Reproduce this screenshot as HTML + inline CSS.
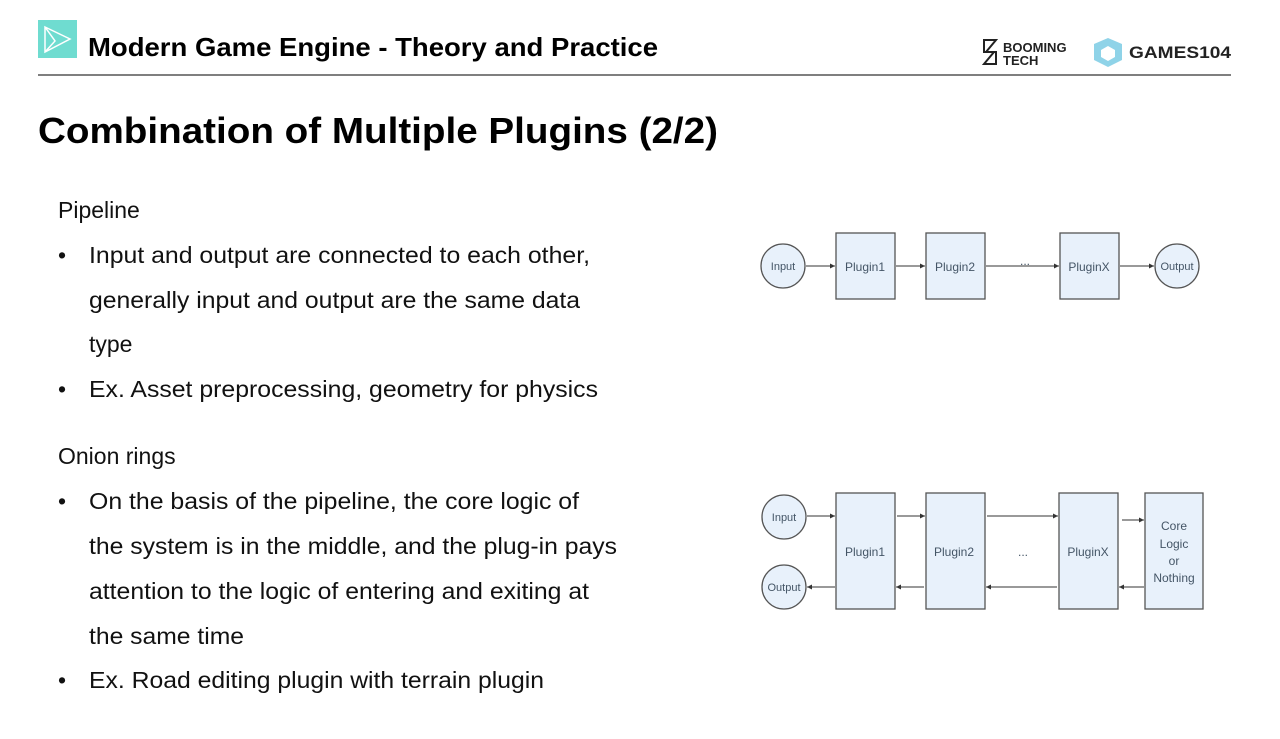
<!DOCTYPE html>
<html><head><meta charset="utf-8"><style>
html,body{margin:0;padding:0;background:#fff;}
svg{display:block;}
</style></head><body>
<svg width="1280" height="739" viewBox="0 0 1280 739" xmlns="http://www.w3.org/2000/svg" font-family="Liberation Sans, sans-serif">
<defs>
<marker id="a" viewBox="0 0 6 6" refX="6" refY="3" markerWidth="5" markerHeight="5" orient="auto"><path d="M0,0 L6,3 L0,6 z" fill="#333"/></marker>
</defs>
<!-- header -->
<rect x="38" y="20" width="39" height="38" fill="#6fdcd0"/>
<path d="M45,27 L70,39 L45,52 Z M45,27 L55,41 L45,52" fill="none" stroke="#fff" stroke-width="1.5"/>
<text x="88" y="56" font-size="26" font-weight="bold" fill="#000" textLength="570" lengthAdjust="spacingAndGlyphs">Modern Game Engine - Theory and Practice</text>
<line x1="38" y1="75" x2="1231" y2="75" stroke="#555" stroke-width="1.5"/>
<path d="M984,40 L996,40 L986,52 L996,52 L996,64 L984,64 L994,52 L984,52 Z" fill="none" stroke="#222" stroke-width="2"/>
<text x="1003" y="52" font-size="13" font-weight="bold" fill="#222">BOOMING</text>
<text x="1003" y="65" font-size="13" font-weight="bold" fill="#222">TECH</text>
<path d="M1108,38 L1122,44 L1122,60 L1108,67 L1094,60 L1094,44 Z" fill="#8fd3e8"/>
<path d="M1108,46 L1115,50 L1115,57 L1108,61 L1101,57 L1101,50 Z" fill="#fff"/>
<text x="1129" y="58" font-size="17" font-weight="bold" fill="#222" textLength="102" lengthAdjust="spacingAndGlyphs">GAMES104</text>
<!-- heading -->
<text x="38" y="143" font-size="36" font-weight="bold" fill="#000" textLength="680" lengthAdjust="spacingAndGlyphs">Combination of Multiple Plugins (2/2)</text>
<!-- body -->
<g font-size="23" fill="#111">
<text x="58" y="218">Pipeline</text>
<text x="58" y="263">•</text><text x="89" y="263" textLength="501" lengthAdjust="spacingAndGlyphs">Input and output are connected to each other,</text>
<text x="89" y="308" textLength="491" lengthAdjust="spacingAndGlyphs">generally input and output are the same data</text>
<text x="89" y="352">type</text>
<text x="58" y="397">•</text><text x="89" y="397" textLength="509" lengthAdjust="spacingAndGlyphs">Ex. Asset preprocessing, geometry for physics</text>
<text x="58" y="464">Onion rings</text>
<text x="58" y="509">•</text><text x="89" y="509" textLength="490" lengthAdjust="spacingAndGlyphs">On the basis of the pipeline, the core logic of</text>
<text x="89" y="554" textLength="528" lengthAdjust="spacingAndGlyphs">the system is in the middle, and the plug-in pays</text>
<text x="89" y="599" textLength="500" lengthAdjust="spacingAndGlyphs">attention to the logic of entering and exiting at</text>
<text x="89" y="644" textLength="155" lengthAdjust="spacingAndGlyphs">the same time</text>
<text x="58" y="688">•</text><text x="89" y="688" textLength="455" lengthAdjust="spacingAndGlyphs">Ex. Road editing plugin with terrain plugin</text>
</g>
<!-- diagram 1 -->
<g stroke="#555" stroke-width="1.3" fill="#e8f1fb">
<circle cx="783" cy="266" r="22"/>
<rect x="836" y="233" width="59" height="66"/>
<rect x="926" y="233" width="59" height="66"/>
<rect x="1060" y="233" width="59" height="66"/>
<circle cx="1177" cy="266" r="22"/>
</g>
<g stroke="#333" stroke-width="1" marker-end="url(#a)">
<line x1="806" y1="266" x2="835" y2="266"/>
<line x1="896" y1="266" x2="925" y2="266"/>
<line x1="986" y1="266" x2="1059" y2="266"/>
<line x1="1120" y1="266" x2="1154" y2="266"/>
</g>
<g font-size="12" fill="#456" text-anchor="middle">
<text x="783" y="270" font-size="11">Input</text>
<text x="865" y="271">Plugin1</text>
<text x="955" y="271">Plugin2</text>
<text x="1025" y="265">...</text>
<text x="1089" y="271">PluginX</text>
<text x="1177" y="270" font-size="11">Output</text>
</g>
<!-- diagram 2 -->
<g stroke="#555" stroke-width="1.3" fill="#e8f1fb">
<circle cx="784" cy="517" r="22"/>
<circle cx="784" cy="587" r="22"/>
<rect x="836" y="493" width="59" height="116"/>
<rect x="926" y="493" width="59" height="116"/>
<rect x="1059" y="493" width="59" height="116"/>
<rect x="1145" y="493" width="58" height="116"/>
</g>
<g stroke="#333" stroke-width="1" marker-end="url(#a)">
<line x1="807" y1="516" x2="835" y2="516"/>
<line x1="897" y1="516" x2="925" y2="516"/>
<line x1="987" y1="516" x2="1058" y2="516"/>
<line x1="1122" y1="520" x2="1144" y2="520"/>
<line x1="1144" y1="587" x2="1119" y2="587"/>
<line x1="1057" y1="587" x2="986" y2="587"/>
<line x1="924" y1="587" x2="896" y2="587"/>
<line x1="835" y1="587" x2="807" y2="587"/>
</g>
<g font-size="12" fill="#456" text-anchor="middle">
<text x="784" y="521" font-size="11">Input</text>
<text x="784" y="591" font-size="11">Output</text>
<text x="865" y="556">Plugin1</text>
<text x="954" y="556">Plugin2</text>
<text x="1023" y="556">...</text>
<text x="1088" y="556">PluginX</text>
<text x="1174" y="530">Core</text>
<text x="1174" y="548">Logic</text>
<text x="1174" y="565">or</text>
<text x="1174" y="582">Nothing</text>
</g>
</svg>
</body></html>
